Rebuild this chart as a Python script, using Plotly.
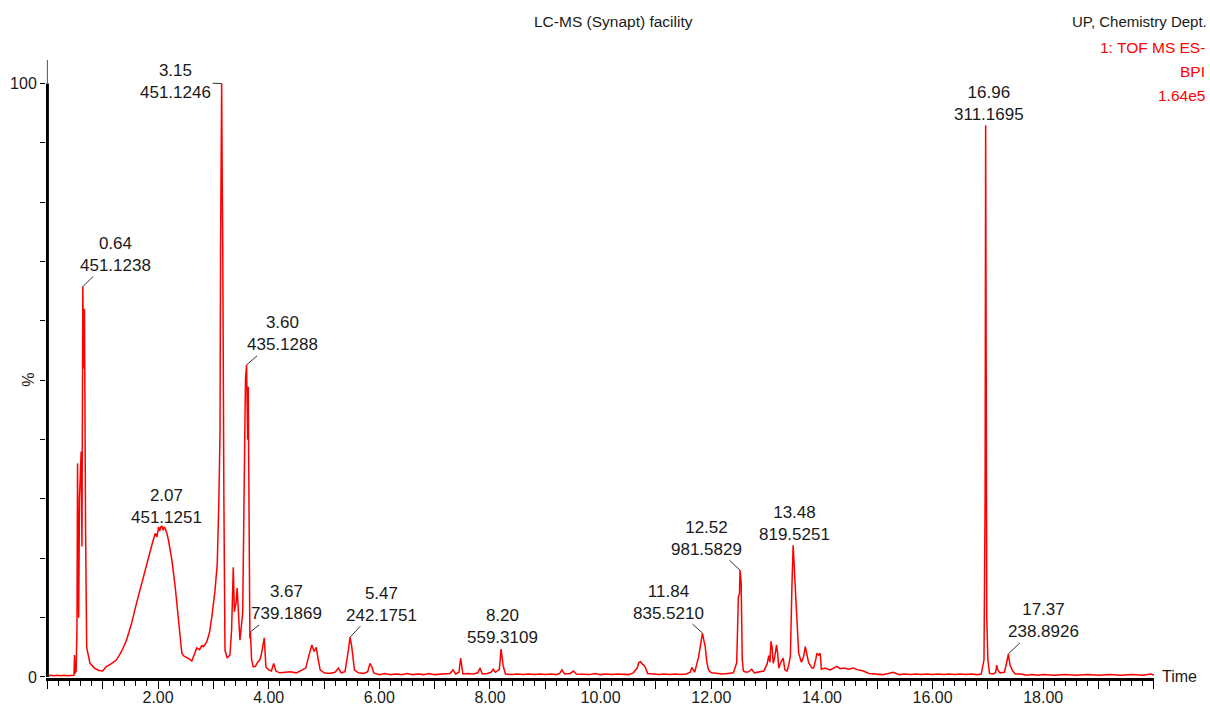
import plotly.graph_objects as go

# Base peak intensity chromatogram (retention time in min, relative intensity in %)
rt = [
    0.00, 0.06, 0.12, 0.18, 0.24, 0.30, 0.36, 0.42, 0.48, 0.49, 0.50, 0.52, 0.535, 0.545, 0.555,
    0.565, 0.58, 0.61, 0.625, 0.64, 0.655, 0.67, 0.69, 0.71, 0.77, 0.85, 0.93, 1.00, 1.06, 1.15,
    1.25, 1.34, 1.43, 1.52, 1.61, 1.67, 1.73, 1.80, 1.86, 1.91, 1.95, 1.98, 2.01, 2.03, 2.05,
    2.07, 2.09, 2.11, 2.13, 2.16, 2.19, 2.25, 2.31, 2.37, 2.43, 2.47, 2.52, 2.57, 2.61, 2.66,
    2.70, 2.75, 2.79, 2.82, 2.88, 2.93, 2.97, 3.03, 3.07, 3.10, 3.12, 3.13, 3.14, 3.15, 3.16,
    3.17, 3.19, 3.21, 3.25, 3.30, 3.33, 3.36, 3.38, 3.41, 3.43, 3.46, 3.48, 3.53, 3.555, 3.58,
    3.60, 3.62, 3.63, 3.65, 3.66, 3.67, 3.69, 3.72, 3.76, 3.80, 3.84, 3.87, 3.92, 3.95, 4.00,
    4.05, 4.09, 4.13, 4.20, 4.30, 4.39, 4.50, 4.60, 4.67, 4.72, 4.78, 4.82, 4.86, 4.89, 4.93,
    5.00, 5.10, 5.20, 5.26, 5.31, 5.38, 5.44, 5.47, 5.50, 5.52, 5.55, 5.62, 5.72, 5.79, 5.83,
    5.86, 5.90, 6.00, 6.10, 6.20, 6.30, 6.40, 6.50, 6.60, 6.70, 6.80, 6.90, 7.00, 7.10, 7.20,
    7.28, 7.33, 7.38, 7.44, 7.47, 7.51, 7.60, 7.70, 7.78, 7.82, 7.86, 7.95, 8.02, 8.06, 8.10,
    8.17, 8.20, 8.24, 8.28, 8.40, 8.50, 8.60, 8.70, 8.80, 8.90, 9.00, 9.10, 9.20, 9.26, 9.30,
    9.35, 9.45, 9.51, 9.56, 9.70, 9.80, 9.90, 10.00, 10.10, 10.20, 10.30, 10.40, 10.50, 10.59, 10.66,
    10.69, 10.72, 10.75, 10.78, 10.81, 10.85, 10.95, 11.05, 11.15, 11.25, 11.35, 11.45, 11.55, 11.62, 11.65,
    11.70, 11.77, 11.81, 11.84, 11.87, 11.89, 11.92, 11.95, 12.00, 12.10, 12.20, 12.30, 12.40, 12.46, 12.49,
    12.51, 12.52, 12.54, 12.56, 12.58, 12.63, 12.68, 12.73, 12.78, 12.85, 12.95, 13.01, 13.04, 13.06, 13.08,
    13.10, 13.12, 13.15, 13.18, 13.20, 13.22, 13.26, 13.30, 13.33, 13.37, 13.40, 13.43, 13.46, 13.48, 13.50,
    13.51, 13.54, 13.58, 13.63, 13.67, 13.70, 13.73, 13.76, 13.82, 13.85, 13.89, 13.91, 13.94, 13.97, 13.99,
    14.05, 14.15, 14.22, 14.27, 14.33, 14.40, 14.48, 14.57, 14.65, 14.75, 14.85, 15.00, 15.10, 15.20, 15.29,
    15.40, 15.50, 15.60, 15.70, 15.80, 15.90, 16.00, 16.10, 16.20, 16.30, 16.40, 16.50, 16.60, 16.70, 16.80,
    16.88, 16.93, 16.95, 16.96, 16.97, 16.98, 17.00, 17.03, 17.10, 17.14, 17.16, 17.18, 17.22, 17.30, 17.35,
    17.37, 17.40, 17.45, 17.50, 17.60, 17.70, 17.80, 17.90, 18.00, 18.20, 18.40, 18.60, 18.80, 19.00, 19.20,
    19.40, 19.60, 19.80, 19.95, 20.00,
]
pct = [
    0.2, 0.3, 0.2, 0.3, 0.2, 0.3, 0.2, 0.3, 0.3, 3.7, 0.6, 1.0, 9.0, 36.0, 12.0,
    10.0, 30.0, 38.0, 22.0, 65.8, 52.0, 62.0, 25.0, 5.0, 2.3, 1.5, 1.1, 1.0, 1.7, 2.2,
    2.9, 4.3, 6.2, 9.0, 12.4, 14.5, 17.0, 19.3, 21.4, 23.0, 24.2, 23.6, 25.3, 24.6, 25.3,
    25.4, 24.7, 25.3, 25.0, 24.2, 23.0, 19.7, 15.2, 9.6, 4.0, 3.5, 3.3, 3.0, 2.7, 3.8,
    4.9, 4.6, 5.3, 5.1, 5.9, 7.5, 10.0, 14.6, 19.0, 30.0, 41.0, 72.0, 84.0, 100.0, 83.4,
    72.0, 30.0, 4.5, 3.2, 3.7, 8.0, 18.5, 11.0, 12.5, 15.0, 8.0, 6.2, 10.8, 34.0, 50.0,
    52.6, 40.0, 48.9, 17.0, 6.5, 7.6, 3.0, 1.7, 1.8, 2.5, 2.9, 3.9, 6.6, 1.7, 1.2,
    1.0, 2.3, 1.0, 0.7, 0.8, 0.9, 0.7, 1.2, 1.5, 3.4, 5.4, 4.3, 5.0, 3.2, 1.2,
    0.7, 0.6, 0.8, 1.5, 0.7, 0.9, 4.5, 6.7, 5.2, 3.0, 1.2, 0.7, 0.6, 0.9, 2.3,
    1.8, 0.7, 0.4, 0.6, 0.4, 0.5, 0.4, 0.6, 0.4, 0.5, 0.4, 0.6, 0.4, 0.5, 0.5,
    0.6, 1.2, 0.5, 0.8, 3.2, 0.5, 0.6, 0.5, 0.7, 1.5, 0.5, 0.6, 0.8, 1.3, 0.8,
    1.3, 4.7, 1.8, 0.5, 0.4, 0.5, 0.4, 0.5, 0.4, 0.5, 0.4, 0.5, 0.4, 0.6, 1.2,
    0.5, 0.6, 1.0, 0.5, 0.5, 0.4, 0.6, 0.4, 0.5, 0.4, 0.5, 0.5, 0.4, 0.7, 1.5,
    2.4, 2.6, 2.2, 2.0, 1.6, 0.6, 0.5, 0.4, 0.5, 0.4, 0.5, 0.4, 0.5, 0.8, 1.6,
    0.8, 3.3, 5.5, 7.4, 6.0, 5.2, 2.5, 1.2, 0.7, 0.6, 0.5, 0.6, 0.7, 2.4, 13.5,
    14.0, 18.0, 16.0, 3.0, 1.0, 0.8, 0.9, 1.3, 0.7, 0.8, 1.0, 2.2, 3.6, 2.5, 6.0,
    5.0, 2.3, 3.5, 5.4, 4.0, 1.5, 2.5, 3.2, 1.2, 1.0, 2.0, 3.5, 16.0, 22.2, 18.5,
    16.3, 10.8, 4.0, 2.5, 3.5, 5.1, 3.5, 2.4, 1.5, 1.5, 3.0, 4.0, 3.7, 4.0, 1.3,
    1.5, 1.2, 1.6, 1.8, 1.4, 1.5, 1.3, 1.5, 1.2, 1.0, 0.6, 0.5, 0.4, 0.6, 0.8,
    0.4, 0.5, 0.4, 0.5, 0.4, 0.5, 0.4, 0.5, 0.4, 0.5, 0.4, 0.5, 0.4, 0.5, 0.4,
    0.5, 2.9, 30.0, 93.0, 58.5, 10.0, 2.9, 0.6, 0.5, 0.8, 2.0, 1.2, 0.7, 0.8, 2.9,
    3.9, 2.0, 1.0, 0.5, 0.5, 0.3, 0.4, 0.3, 0.4, 0.3, 0.4, 0.3, 0.4, 0.3, 0.4,
    0.3, 0.4, 0.3, 0.5, 0.3,
]

# Labelled peaks: retention time and base peak m/z
peak_rt = [0.64, 2.07, 3.15, 3.60, 3.67, 5.47, 8.20, 11.84, 12.52, 13.48, 16.96, 17.37]
peak_mz = ["451.1238", "451.1251", "451.1246", "435.1288", "739.1869", "242.1751",
           "559.3109", "835.5210", "981.5829", "819.5251", "311.1695", "238.8926"]

# Axis ticks
x_tickvals = list(range(0, 21))
x_ticktext = [f"{v:.2f}" if (v % 2 == 0 and 0 < v < 20) else "" for v in x_tickvals]
y_tickvals = list(range(0, 101, 10))
y_ticktext = ["0"] + [""] * 9 + ["100"]

# Label placement: pixel offset of text block from the peak apex, and whether a leader is drawn
label_layout = {
    0.64: (33, -32, True),
    2.07: (5, -20, False),
    3.15: (-46, -2, True),
    3.60: (36, -31, True),
    3.67: (36, -29, True),
    5.47: (31, -33, True),
    8.20: (1, -23, False),
    11.84: (-34, -31, True),
    12.52: (-34, -32, True),
    13.48: (1, -22, False),
    16.96: (3, -22, False),
    17.37: (35, -33, True),
}

FONT = "Liberation Sans, Arial, sans-serif"
RED = "#ff0000"

fig = go.Figure()
fig.add_trace(go.Scatter(
    x=rt, y=pct, mode="lines",
    line=dict(color=RED, width=1.5),
    showlegend=False, hoverinfo="x+y",
))

annotations = []
for t, mz in zip(peak_rt, peak_mz):
    height = pct[rt.index(t)]
    dx, dy, leader = label_layout[t]
    annotations.append(dict(
        x=t, y=height, xref="x", yref="y",
        text=f"{t:.2f}<br>{mz}",
        showarrow=True, arrowhead=0, arrowwidth=1, standoff=0,
        arrowcolor="#333333" if leader else "rgba(0,0,0,0)",
        ax=dx, ay=dy,
        font=dict(family=FONT, size=17, color="#1a1a1a"),
    ))

# Header text
annotations += [
    dict(x=0.5122, y=1.0615, xref="paper", yref="paper", text="LC-MS (Synapt) facility",
         showarrow=False, xanchor="center", yanchor="middle",
         font=dict(family=FONT, size=15.5, color="#1a1a1a")),
    dict(x=1.0492, y=1.0615, xref="paper", yref="paper", text="UP, Chemistry Dept.",
         showarrow=False, xanchor="right", yanchor="middle",
         font=dict(family=FONT, size=15, color="#1a1a1a")),
    dict(x=1.0474, y=1.021, xref="paper", yref="paper", text="1: TOF MS ES-",
         showarrow=False, xanchor="right", yanchor="middle",
         font=dict(family=FONT, size=15.5, color=RED)),
    dict(x=1.0474, y=0.982, xref="paper", yref="paper", text="BPI",
         showarrow=False, xanchor="right", yanchor="middle",
         font=dict(family=FONT, size=15.5, color=RED)),
    dict(x=1.0474, y=0.943, xref="paper", yref="paper", text="1.64e5",
         showarrow=False, xanchor="right", yanchor="middle",
         font=dict(family=FONT, size=15.5, color=RED)),
    # axis captions
    dict(x=1.0, y=0, xref="paper", yref="y", text="Time", showarrow=False,
         xanchor="left", yanchor="middle", xshift=6,
         font=dict(family=FONT, size=16, color="#1a1a1a")),
    dict(x=-0.0157, y=0.482, xref="paper", yref="paper", text="%", showarrow=False,
         textangle=-90, xanchor="center", yanchor="middle",
         font=dict(family=FONT, size=16, color="#1a1a1a")),
]

# Y axis spine: heavy from 0 to 100 %, thin above
shapes = [
    dict(type="line", xref="x", yref="y", x0=0, x1=0, y0=0, y1=100,
         line=dict(color="black", width=3), layer="above"),
    dict(type="line", xref="x", yref="y", x0=0, x1=0, y0=100, y1=104,
         line=dict(color="#555555", width=1), layer="above"),
]

fig.update_layout(
    width=1210, height=708,
    margin=dict(l=46, r=56.4, t=60, b=30, autoexpand=False),
    paper_bgcolor="white", plot_bgcolor="white",
    annotations=annotations, shapes=shapes,
    xaxis=dict(
        range=[-0.0253, 20.003], automargin=False,
        tickmode="array", tickvals=x_tickvals, ticktext=x_ticktext,
        ticks="outside", ticklen=8, tickwidth=1, tickcolor="black",
        ticklabelstandoff=-5,
        minor=dict(dtick=0.2, tick0=0, ticks="outside", ticklen=5, tickwidth=1, tickcolor="black"),
        showline=True, linecolor="black", linewidth=3,
        showgrid=False, zeroline=False,
        tickfont=dict(family=FONT, size=16, color="#1a1a1a"),
    ),
    yaxis=dict(
        range=[-0.17, 103.98], automargin=False,
        tickmode="array", tickvals=y_tickvals, ticktext=y_ticktext,
        ticks="outside", ticklen=5, tickwidth=1, tickcolor="black",
        showline=False, showgrid=False, zeroline=False,
        tickfont=dict(family=FONT, size=16, color="#1a1a1a"),
    ),
)

fig.write_html("out.html")
